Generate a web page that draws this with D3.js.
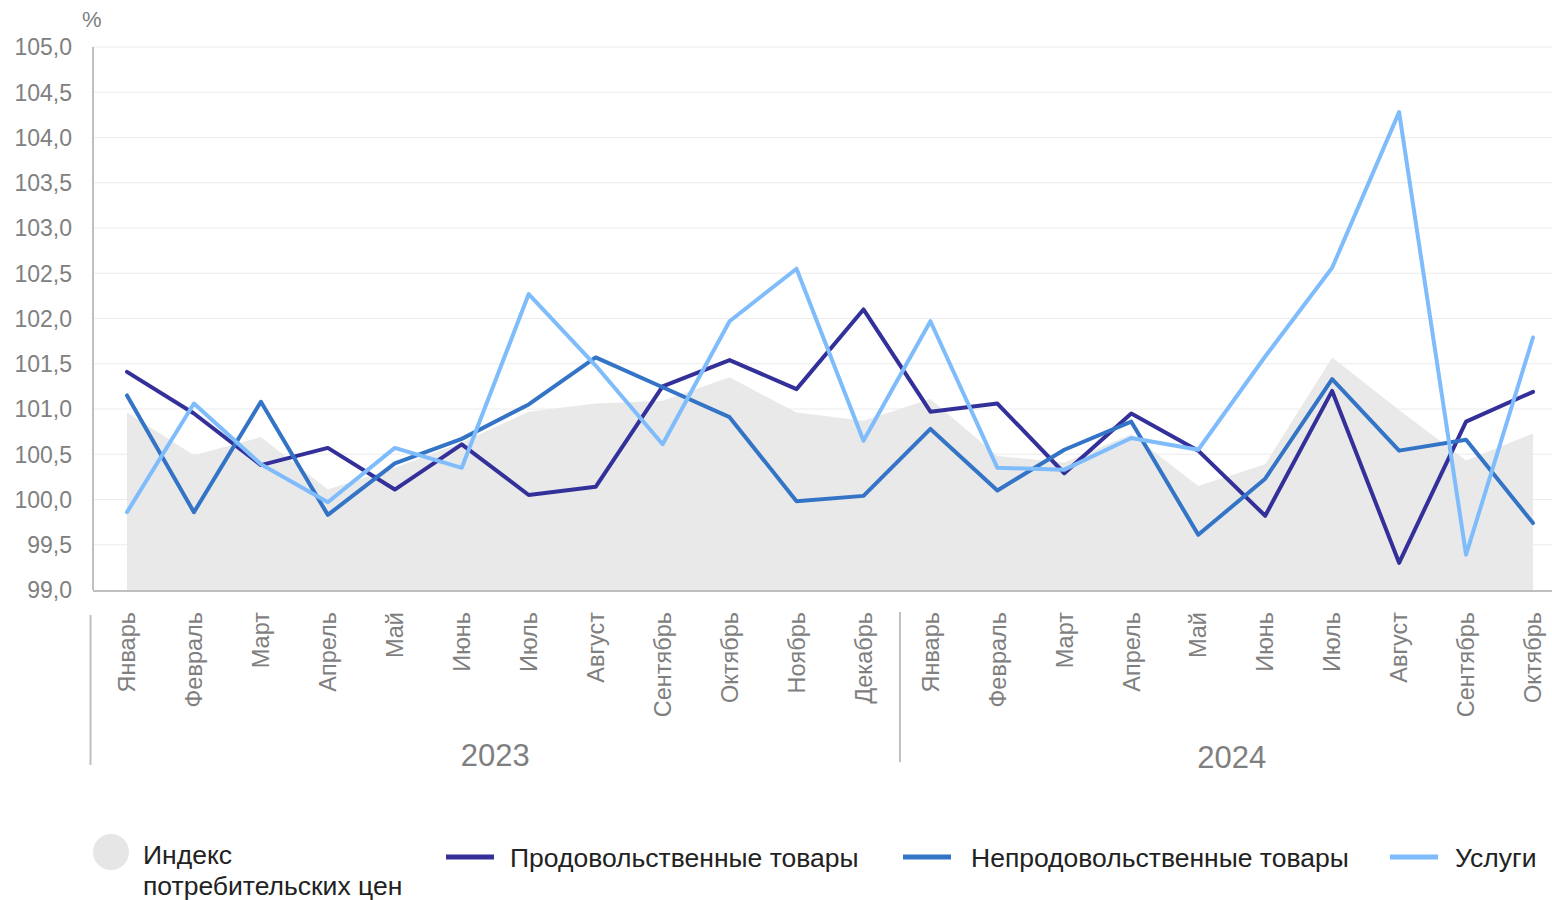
<!DOCTYPE html>
<html>
<head>
<meta charset="utf-8">
<script src="https://cdn.jsdelivr.net/npm/d3@7"></script>
<style>
    body { margin: 0; background: #fff; }
    svg { display: block; font-family: "Liberation Sans", Arial, sans-serif; }
</style>
</head>
<body>
<div id="chart"></div>
<script>
const months = [
    'Январь', 'Февраль', 'Март', 'Апрель', 'Май', 'Июнь', 'Июль', 'Август',
    'Сентябрь', 'Октябрь', 'Ноябрь', 'Декабрь',
    'Январь', 'Февраль', 'Март', 'Апрель', 'Май', 'Июнь', 'Июль', 'Август',
    'Сентябрь', 'Октябрь'
]

const years = [
    { label: '2023', from: 0, to: 11 },
    { label: '2024', from: 12, to: 21 }
]

const cpi = [100.96, 100.49, 100.69, 100.11, 100.35, 100.63, 100.97, 101.06, 101.09, 101.35, 100.96, 100.87,
    101.11, 100.48, 100.41, 100.72, 100.15, 100.39, 101.57, 100.99, 100.43, 100.73]

const food = [101.41, 100.95, 100.38, 100.57, 100.11, 100.61, 100.05, 100.14, 101.25, 101.54, 101.22, 102.10,
    100.97, 101.06, 100.29, 100.95, 100.54, 99.82, 101.20, 99.30, 100.86, 101.19]

const nonFood = [101.15, 99.86, 101.08, 99.83, 100.40, 100.67, 101.05, 101.57, 101.24, 100.91, 99.98, 100.04,
    100.78, 100.10, 100.55, 100.86, 99.61, 100.23, 101.33, 100.54, 100.66, 99.74]

const services = [99.86, 101.06, 100.39, 99.97, 100.57, 100.35, 102.27, 101.48, 100.61, 101.97, 102.55, 100.65,
    101.97, 100.35, 100.33, 100.68, 100.55, 101.58, 102.56, 104.28, 99.39, 101.79]

const lineSeries = [
    { name: 'Продовольственные товары', values: food, color: '#34309a' },
    { name: 'Непродовольственные товары', values: nonFood, color: '#3474c6' },
    { name: 'Услуги', values: services, color: '#7fbcfb' }
]

const areaName = ['Индекс', 'потребительских цен']

function CreateGraph() {
    const width = 1552;
    const height = 900;

    const margin = { top: 47, bottom: 310, left: 93, right: 0 };

    const svg = d3.select('#chart')
        .append('svg')
        .attr('width', width)
        .attr('height', height)

    const x = d3.scalePoint()
        .domain(d3.range(months.length))
        .range([127, 1533])

    const step = x.step();

    const y = d3.scaleLinear()
        .domain([99, 105])
        .range([height - margin.bottom, margin.top])

    const fmt = d => d3.format('.1f')(d).replace('.', ',');

    // grid
    svg.append('g')
        .selectAll('line')
        .data(d3.range(99.5, 105.01, 0.5))
        .join('line')
        .attr('x1', margin.left)
        .attr('x2', width)
        .attr('y1', d => y(d))
        .attr('y2', d => y(d))
        .attr('stroke', '#ebebeb')
        .attr('stroke-width', 1.2)

    // y tick labels
    svg.append('g')
        .selectAll('text')
        .data(d3.range(99, 105.01, 0.5))
        .join('text')
        .attr('x', 72)
        .attr('y', d => y(d))
        .attr('dy', '0.36em')
        .attr('text-anchor', 'end')
        .attr('fill', '#808080')
        .attr('font-size', '23px')
        .text(fmt)

    svg.append('text')
        .attr('x', 82)
        .attr('y', 27)
        .attr('fill', '#808080')
        .attr('font-size', '22px')
        .text('%')

    // CPI area
    const area = d3.area()
        .x((d, i) => x(i))
        .y0(y(99))
        .y1(d => y(d))

    svg.append('path')
        .datum(cpi)
        .attr('d', area)
        .attr('fill', '#e9e9e9')

    // lines
    const line = d3.line()
        .x((d, i) => x(i))
        .y(d => y(d))

    svg.append('g')
        .selectAll('path')
        .data(lineSeries)
        .join('path')
        .attr('d', d => line(d.values))
        .attr('fill', 'none')
        .attr('stroke', d => d.color)
        .attr('stroke-width', 4)
        .attr('stroke-linejoin', 'round')
        .attr('stroke-linecap', 'round')

    // axes lines
    svg.append('line')
        .attr('x1', margin.left).attr('x2', margin.left)
        .attr('y1', y(105)).attr('y2', y(99))
        .attr('stroke', '#c0c0c0').attr('stroke-width', 2)

    svg.append('line')
        .attr('x1', margin.left).attr('x2', width)
        .attr('y1', y(99) + 1).attr('y2', y(99) + 1)
        .attr('stroke', '#bfbfbf').attr('stroke-width', 2)

    // month labels
    svg.append('g')
        .selectAll('text')
        .data(months)
        .join('text')
        .attr('transform', (d, i) => `translate(${x(i)}, 612) rotate(-90)`)
        .attr('dy', '0.35em')
        .attr('text-anchor', 'end')
        .attr('fill', '#7f7f7f')
        .attr('font-size', '23.5px')
        .text(d => d)

    // year groups
    const yearG = svg.append('g')
    yearG.selectAll('line')
        .data(years)
        .join('line')
        .attr('x1', d => x(d.from) - step / 2 + (d.from ? 3 : -3))
        .attr('x2', d => x(d.from) - step / 2 + (d.from ? 3 : -3))
        .attr('y1', d => d.from ? 612 : 615)
        .attr('y2', d => d.from ? 762 : 765)
        .attr('stroke', '#c0c0c0')
        .attr('stroke-width', 2)

    yearG.selectAll('text')
        .data(years)
        .join('text')
        .attr('x', d => (x(d.from) + x(d.to)) / 2)
        .attr('y', d => d.from ? 768 : 766)
        .attr('text-anchor', 'middle')
        .attr('fill', '#7f7f7f')
        .attr('font-size', '31px')
        .text(d => d.label)

    // legend
    const legend = svg.append('g')
        .attr('font-size', '26.5px')
        .attr('fill', '#222')

    legend.append('circle')
        .attr('cx', 111).attr('cy', 852).attr('r', 18)
        .attr('fill', '#e6e6e6')

    legend.append('text')
        .attr('x', 143).attr('y', 864)
        .text(areaName[0])
    legend.append('text')
        .attr('x', 143).attr('y', 895)
        .text(areaName[1])

    const legendX = [446, 903, 1390];
    const textGap = [64, 68, 65];

    lineSeries.forEach((s, i) => {
        legend.append('line')
            .attr('x1', legendX[i]).attr('x2', legendX[i] + 48)
            .attr('y1', 857).attr('y2', 857)
            .attr('stroke', s.color).attr('stroke-width', 5)
        legend.append('text')
            .attr('x', legendX[i] + textGap[i]).attr('y', 867)
            .text(s.name)
    });
}

CreateGraph();
</script>
</body>
</html>
